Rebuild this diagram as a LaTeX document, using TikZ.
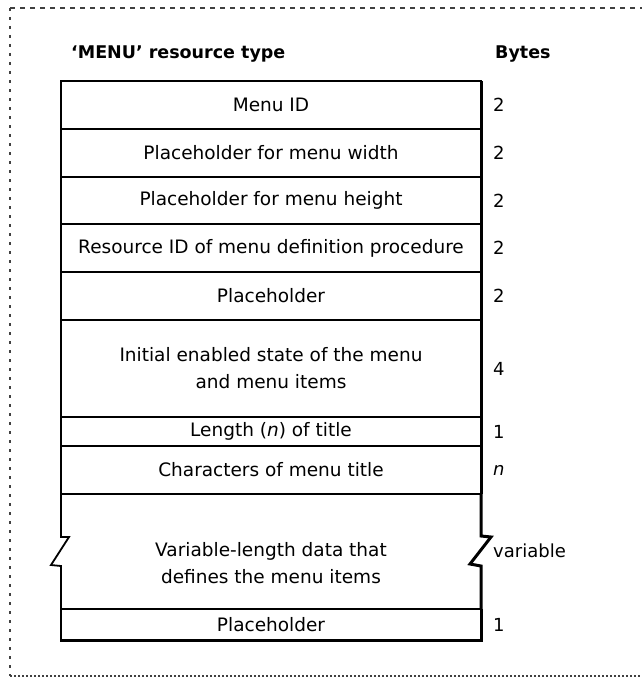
\documentclass[tikz,border=0pt]{standalone}
\usepackage{fontspec}
\setmainfont{DejaVu Sans}
\begin{document}
\begin{tikzpicture}[x=1pt,y=-1pt,
  field/.style={draw, line width=1.8pt, minimum width=420pt, inner sep=0pt, outer sep=0pt,
    font=\fontsize{18.5}{27}\selectfont, align=center},
  ftext/.style={inner sep=0pt, font=\fontsize{18.5}{27}\selectfont, align=center},
  bytes/.style={anchor=west, inner sep=0pt, font=\fontsize{18}{22}\selectfont},
  head/.style={inner sep=0pt, font=\fontsize{17.5}{20}\selectfont\bfseries},
  edge/.style={line width=1.8pt},
  shadow/.style={line width=3pt}]
\useasboundingbox (0,0) rectangle (642,677);
% dotted frame
\draw[black!75, line width=1.2pt, dash pattern=on 5pt off 5pt] (10,8) -- (642,8);
\draw[black!75, line width=1.2pt, dash pattern=on 3pt off 6pt] (10,8) -- (10,676);
\draw[black!75, line width=1.2pt, dash pattern=on 1.5pt off 2.5pt] (10,676) -- (642,676);

% headings
\node[head, anchor=west] (htype) at (71,54) {‘MENU’ resource type};
\node[head, anchor=west] (hbytes) at (495,54) {Bytes};

% fields
\node[field, minimum height=48pt] (f1) at (271,105) {Menu ID};
\node[field, minimum height=48pt] (f2) at (271,153) {Placeholder for menu width};
\node[field, minimum height=47pt] (f3) at (271,200.5) {Placeholder for menu height};
\node[field, minimum height=48pt] (f4) at (271,248) {Resource ID of menu definition procedure};
\node[field, minimum height=48pt] (f5) at (271,296) {Placeholder};
\node[field, minimum height=97pt] (f6) at (271,368.5) {Initial enabled state of the menu\\and menu items};
\node[field, minimum height=29pt] (f7) at (271,431.5) {Length (\textit{n}) of title};
\node[field, minimum height=48pt] (f8) at (271,470) {Characters of menu title};
\node[ftext] (f9) at (271,563) {Variable-length data that\\defines the menu items};
\node[field, minimum height=31pt] (f10) at (271,624.5) {Placeholder};

% variable-length section outline with break marks
\draw[edge] (f8.south west) -- (61,537) -- (69,537) -- (51,565) -- (61,566) -- (f10.north west);
\draw[shadow] (481,494) -- (481,536) -- (491,537) -- (470,564) -- (481,566) -- (481,609);

% shadow edges (right and bottom)
\draw[shadow] (f1.north east) -- (f8.south east);
\draw[shadow] (f10.north east) -- (f10.south east);
\draw[shadow] ([xshift=-0.9pt]f10.south west) -- ([xshift=1.5pt]f10.south east);

% byte counts
\node[bytes] (b1) at (493,105) {2};
\node[bytes] (b2) at (493,153) {2};
\node[bytes] (b3) at (493,200.5) {2};
\node[bytes] (b4) at (493,248) {2};
\node[bytes] (b5) at (493,296) {2};
\node[bytes] (b6) at (493,369) {4};
\node[bytes] (b7) at (493,432) {1};
\node[bytes] (b8) at (493,470) {\textit{n}};
\node[bytes] (b9) at (493,551) {variable};
\node[bytes] (b10) at (493,625) {1};
\end{tikzpicture}
\end{document}
